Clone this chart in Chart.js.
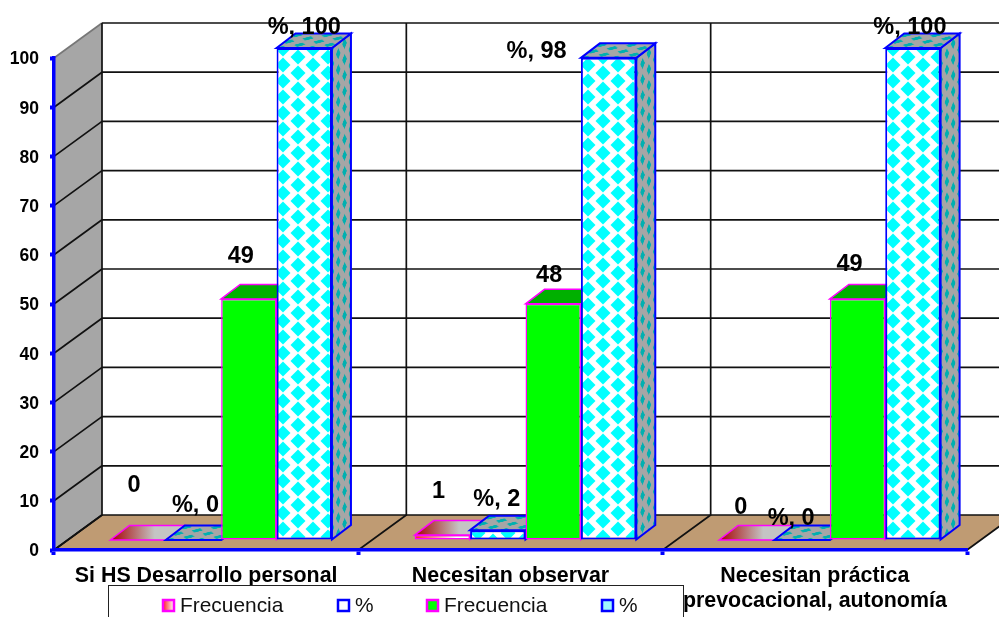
<!DOCTYPE html>
<html>
<head>
<meta charset="utf-8">
<title>Frecuencia y porcentaje</title>
<script src="https://cdn.jsdelivr.net/npm/chart.js@4/dist/chart.umd.min.js"></script>
<style>
  html, body { margin: 0; padding: 0; background: #fff; overflow: hidden; }
  canvas { display: block; }
</style>
</head>
<body>
<canvas id="grafico" width="999" height="617"></canvas>
<script>
// Datos
const categorias = ['Si HS Desarrollo personal', 'Necesitan observar', ['Necesitan práctica', 'prevocacional, autonomía']];
const frecuenciaA = [0, 1, 0];
const porcentajeA = [0, 2, 0];
const frecuenciaB = [49, 48, 49];
const porcentajeB = [100, 98, 100];
const ticksY = [0, 10, 20, 30, 40, 50, 60, 70, 80, 90, 100];

// Etiquetas movidas a mano en el original: desplazamiento [dx, dy] desde la cima de cada barra
const desplazaEtiquetas = [
  [[-4, -54], [-4, -44], [-6, -32]],
  [[2, -34], [-1, -31], [-11, -21]],
  [[-8, -42], [-4, -28], [-8, -34]],
  [[0, -20], [-72, -6], [-3, -20]],
];

// Fase [x, y] de los rombos en cada barra de %
const faseRombosA = [[13, 1], [28, 5], [23, 1]];
const faseRombosB = [[13, 1], [18, 1], [23, 1]];

const FUENTE = "'Liberation Sans', Arial, sans-serif";
const AZUL = '#0000ff';
const MAGENTA = '#ff00ff';
const GRIS = '#a6a6a6';
const SUELO = '#bf9b73';

// Profundidad de la sala y de las barras
const SALA = { dx: 48, dy: -35 };
const BARRA = { dx: 19, dy: -14.5 };
const DESPLAZA = { x: 15, y: -10 };

// Baldosa de rombos
function crearBaldosa(fondo, rombo, radio) {
  const c = document.createElement('canvas');
  c.width = 30;
  c.height = 16;
  const g = c.getContext('2d');
  g.fillStyle = fondo;
  g.fillRect(0, 0, 30, 16);
  g.fillStyle = rombo;
  [[0, 0], [30, 0], [0, 16], [30, 16], [15, 8]].forEach(([x, y]) => {
    g.beginPath();
    g.moveTo(x - radio, y);
    g.lineTo(x, y - radio);
    g.lineTo(x + radio, y);
    g.lineTo(x, y + radio);
    g.closePath();
    g.fill();
  });
  return c;
}

const ctx = document.getElementById('grafico').getContext('2d');
const baldosaFrente = crearBaldosa('#ffffff', '#00ffff', 7.5);
const baldosaCara = crearBaldosa(GRIS, '#00b0b0', 5.5);

function patron(baldosa, a, b, c, d, e, f) {
  const p = ctx.createPattern(baldosa, 'repeat');
  p.setTransform(new DOMMatrix([a, b, c, d, e, f]));
  return p;
}

const frenteRombos = fases => fases.map(([fx, fy]) =>
  patron(baldosaFrente, 1, 0, 0, 1, fx - DESPLAZA.x, fy - DESPLAZA.y));

// Degradado de las barras "Frecuencia" pequeñas
function degradadoFrente(contexto) {
  const x = contexto.chart.scales.x;
  if (!x || !x.width) return '#ff8080';
  const centro = x.getPixelForValue(contexto.dataIndex);
  const ancho = x.width / 3 * 0.728 / 4;
  const g = ctx.createLinearGradient(centro - 2 * ancho, 0, centro - ancho, 0);
  g.addColorStop(0, '#ff2020');
  g.addColorStop(0.75, '#ffffff');
  g.addColorStop(1, '#ffffff');
  return g;
}

// Suelo, paredes y rejilla en perspectiva
const salaPlugin = {
  id: 'sala',
  beforeDraw(chart) {
    const c = chart.ctx;
    const { x: ex, y: ey } = chart.scales;
    const base = ey.getPixelForValue(0);
    const tope = ey.getPixelForValue(100);
    const izq = ex.left;
    const der = ex.right;
    const pasoX = ex.width / categorias.length;

    c.save();
    c.fillStyle = GRIS;
    c.beginPath();
    c.moveTo(izq, tope);
    c.lineTo(izq + SALA.dx, tope + SALA.dy);
    c.lineTo(izq + SALA.dx, base + SALA.dy);
    c.lineTo(izq, base);
    c.closePath();
    c.fill();

    c.fillStyle = SUELO;
    c.beginPath();
    c.moveTo(izq, base);
    c.lineTo(izq + SALA.dx, base + SALA.dy);
    c.lineTo(der + SALA.dx, base + SALA.dy);
    c.lineTo(der, base);
    c.closePath();
    c.fill();

    c.strokeStyle = '#111';
    c.lineWidth = 1.7;
    ticksY.forEach(v => {
      const y = ey.getPixelForValue(v);
      c.strokeStyle = v === 100 ? '#777' : '#111';
      c.beginPath();
      c.moveTo(izq, y);
      c.lineTo(izq + SALA.dx, y + SALA.dy);
      c.stroke();
      c.strokeStyle = '#111';
      c.beginPath();
      c.moveTo(izq + SALA.dx, y + SALA.dy);
      c.lineTo(der + SALA.dx, y + SALA.dy);
      c.stroke();
    });
    for (let i = 0; i <= categorias.length; i++) {
      const x = izq + i * pasoX;
      c.beginPath();
      c.moveTo(x + SALA.dx, tope + SALA.dy);
      c.lineTo(x + SALA.dx, base + SALA.dy);
      c.lineTo(x, base);
      c.stroke();
    }
    c.restore();
  },
};

// Caras superior y lateral de cada barra; el frente lo dibuja Chart.js
const carasPlugin = {
  id: 'caras',
  beforeDatasetsDraw(chart) {
    const c = chart.ctx;
    c.save();
    c.translate(DESPLAZA.x, DESPLAZA.y);
    chart.data.datasets.forEach((ds, i) => {
      chart.getDatasetMeta(i).data.forEach((barra, j) => {
        const izq = barra.x - barra.width / 2;
        const der = barra.x + barra.width / 2;
        const arriba = barra.y;
        const abajo = barra.base;

        // cara lateral
        c.beginPath();
        c.moveTo(der, arriba);
        c.lineTo(der + BARRA.dx, arriba + BARRA.dy);
        c.lineTo(der + BARRA.dx, abajo + BARRA.dy);
        c.lineTo(der, abajo);
        c.closePath();
        c.fillStyle = ds.esRombos
          ? patron(baldosaCara, 0.42, -0.15, 0, 1, der, arriba)
          : ds.colorTapa === 'degradado' ? '#c0c0c0' : ds.colorTapa;
        c.fill();
        c.strokeStyle = ds.borderColor;
        c.lineWidth = ds.borderWidth;
        c.stroke();

        // cara superior
        c.beginPath();
        c.moveTo(izq, arriba);
        c.lineTo(izq + BARRA.dx, arriba + BARRA.dy);
        c.lineTo(der + BARRA.dx, arriba + BARRA.dy);
        c.lineTo(der, arriba);
        c.closePath();
        if (ds.colorTapa === 'degradado') {
          const g = c.createLinearGradient(izq, 0, der, 0);
          g.addColorStop(0, '#a80000');
          g.addColorStop(0.8, '#c4c4c4');
          c.fillStyle = g;
        } else if (ds.esRombos) {
          c.fillStyle = patron(baldosaCara, 1, 0, -0.52, 0.4, izq + 4, arriba);
        } else {
          c.fillStyle = ds.colorTapa;
        }
        c.fill();
        c.stroke();
      });
    });
  },
  afterDatasetsDraw(chart) {
    chart.ctx.restore();
  },
};

// Etiquetas de datos
const etiquetasPlugin = {
  id: 'etiquetas',
  afterDatasetsDraw(chart) {
    const c = chart.ctx;
    c.save();
    c.font = 'bold 23.5px ' + FUENTE;
    c.fillStyle = '#000';
    c.textAlign = 'center';
    c.textBaseline = 'middle';
    chart.data.datasets.forEach((ds, i) => {
      chart.getDatasetMeta(i).data.forEach((barra, j) => {
        const texto = ds.label === '%' ? `%, ${ds.data[j]}` : String(ds.data[j]);
        const [dx, dy] = desplazaEtiquetas[i][j];
        c.fillText(texto, barra.x + DESPLAZA.x + dx, barra.y + DESPLAZA.y + dy);
      });
    });
    c.restore();
  },
};

// Leyenda dentro de un recuadro cortado por el borde inferior
const leyendaX = [163, 338, 427, 602];
const leyendaPlugin = {
  id: 'leyenda',
  afterDraw(chart) {
    const c = chart.ctx;
    c.save();
    c.fillStyle = '#fff';
    c.strokeStyle = '#222';
    c.lineWidth = 1;
    c.fillRect(108.5, 585.5, 575, 40);
    c.strokeRect(108.5, 585.5, 575, 40);
    c.textBaseline = 'middle';
    c.textAlign = 'left';
    c.font = '20.9px ' + FUENTE;
    chart.data.datasets.forEach((ds, i) => {
      const x = leyendaX[i];
      let relleno = ds.colorLeyenda;
      if (relleno === 'degradado') {
        relleno = c.createLinearGradient(x, 0, x + 11, 0);
        relleno.addColorStop(0, '#ff2020');
        relleno.addColorStop(1, '#ffffff');
      }
      c.fillStyle = relleno;
      c.fillRect(x, 600, 11, 11);
      c.strokeStyle = ds.borderColor;
      c.lineWidth = 2.5;
      c.strokeRect(x, 600, 11, 11);
      c.fillStyle = '#111';
      c.fillText(ds.label, x + 17, 606);
    });
    c.restore();
  },
};

new Chart(ctx, {
  type: 'bar',
  data: {
    labels: categorias,
    datasets: [
      { label: 'Frecuencia', data: frecuenciaA, backgroundColor: degradadoFrente, borderColor: MAGENTA, borderWidth: 1.5, colorTapa: 'degradado', colorLeyenda: 'degradado' },
      { label: '%', data: porcentajeA, backgroundColor: frenteRombos(faseRombosA), borderColor: AZUL, borderWidth: 2, esRombos: true, colorLeyenda: '#ffffff' },
      { label: 'Frecuencia', data: frecuenciaB, backgroundColor: '#00ff00', borderColor: MAGENTA, borderWidth: 1.5, colorTapa: '#00b000', colorLeyenda: '#00ff00' },
      { label: '%', data: porcentajeB, backgroundColor: frenteRombos(faseRombosB), borderColor: AZUL, borderWidth: 2, esRombos: true, colorLeyenda: '#a0f8ff' },
    ],
  },
  plugins: [salaPlugin, carasPlugin, etiquetasPlugin, leyendaPlugin],
  options: {
    responsive: false,
    animation: false,
    layout: { autoPadding: false, padding: { top: 58, right: 32, left: 0, bottom: 0 } },
    datasets: {
      bar: { categoryPercentage: 0.728, barPercentage: 1, borderSkipped: false, clip: false },
    },
    plugins: { legend: { display: false }, tooltip: { enabled: false } },
    scales: {
      x: {
        afterFit: s => { s.height = 67; },
        grid: { drawOnChartArea: false, color: AZUL, tickColor: AZUL, tickLength: 5, tickWidth: 4 },
        border: { color: AZUL, width: 3.5 },
        ticks: { color: '#000', maxRotation: 0, autoSkip: false, padding: 9, font: { family: FUENTE, size: 21.4, weight: 'bold', lineHeight: 1.17 } },
      },
      y: {
        min: 0,
        max: 100,
        afterFit: s => { s.width = 54; },
        afterBuildTicks: s => { s.ticks = ticksY.map(value => ({ value })); },
        grid: { drawOnChartArea: false, color: AZUL, tickColor: AZUL, tickLength: 4, tickWidth: 4 },
        border: { color: AZUL, width: 3.5 },
        ticks: { color: '#000', padding: 11, labelOffset: 1.5, font: { family: FUENTE, size: 17.5, weight: 'bold' } },
      },
    },
  },
});
</script>
</body>
</html>
